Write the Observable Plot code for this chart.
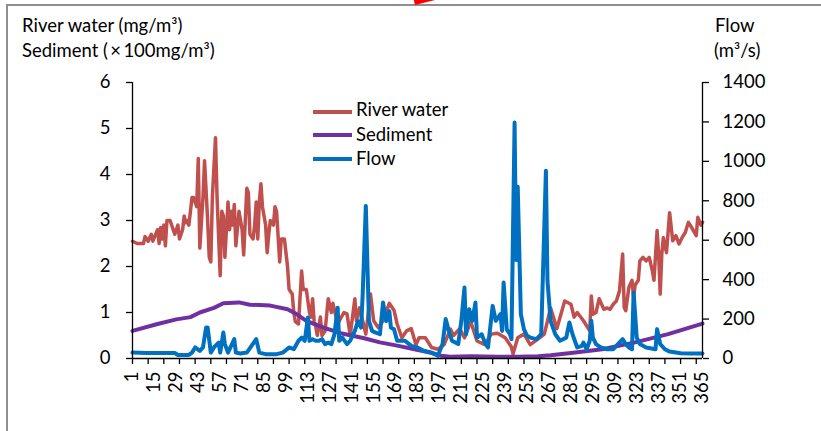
<!DOCTYPE html>
<html>
<head>
<meta charset="utf-8">
<script src="https://cdn.jsdelivr.net/npm/d3@7"></script>
<script src="https://cdn.jsdelivr.net/npm/@observablehq/plot@0.6"></script>
<style>
  body { margin: 0; background: #fff; }
  #wrap { position: relative; width: 821px; height: 431px; overflow: hidden; background: #fff; font-family: Lato, "Open Sans", sans-serif; color: #000; }
  #wrap svg { position: absolute; left: 0; top: 0; }
  .t { position: absolute; font-size: 18.5px; line-height: 1; white-space: nowrap; }
  .sw { position: absolute; height: 4px; width: 39px; }
</style>
</head>
<body>
<div id="wrap">
  <div style="position:absolute;left:6px;top:4px;width:900px;height:500px;border-left:2px solid #8f8f8f;border-top:2px solid #8f8f8f;"></div>
  <div style="position:absolute;left:415px;top:0px;width:25px;height:5px;background:#f00;transform:rotate(-14deg);transform-origin:left bottom;"></div>
</div>
<script>
// ---- data ----
const riverDays = [1,4,8,9,11,13,14,17,18,19,20,21,22,23,25,27,28,30,31,33,34,35,36,37,39,40,42,43,44,46,47,49,50,51,52,54,55,57,58,59,60,62,63,64,65,66,67,69,70,71,72,74,75,76,78,79,80,81,82,83,84,86,87,88,89,91,92,93,95,96,98,99,100,101,103,104,105,107,109,110,112,114,115,116,117,118,119,121,122,124,126,128,129,132,136,138,140,143,144,146,150,153,155,158,161,165,168,170,173,176,179,182,184,188,192,196,200,204,206,210,213,217,221,226,230,234,239,243,244,247,251,255,259,264,268,272,277,281,283,285,289,293,294,295,297,299,302,304,306,308,310,312,314,315,316,318,320,321,322,324,325,327,329,331,333,334,336,337,338,339,340,342,344,346,348,350,352,354,356,358,361,362,364,365];
const riverVals = [2.55,2.5,2.5,2.65,2.55,2.7,2.55,2.8,2.5,2.85,2.6,2.9,2.45,3.0,3.0,2.8,2.7,2.9,2.6,2.8,3.1,2.95,3.0,2.9,3.5,3.5,3.3,4.35,2.4,3.5,4.3,3.0,2.2,2.1,3.5,4.8,3.5,1.8,3.2,3.1,2.2,3.4,2.8,3.2,2.9,3.35,2.45,3.2,3.0,2.8,2.25,3.7,3.6,2.7,2.6,2.9,3.4,2.6,3.4,3.8,3.3,2.9,2.3,2.7,3.0,2.9,3.3,3.2,2.1,2.6,2.6,2.3,2.0,1.5,1.4,1.0,0.8,0.75,1.9,1.5,1.5,1.0,0.9,1.3,0.8,0.7,0.5,0.9,0.5,0.6,1.3,1.0,1.2,0.75,1.0,0.97,0.5,1.3,0.82,1.1,0.53,1.4,0.82,0.67,0.82,1.2,1.05,0.75,0.45,0.6,0.65,0.3,0.45,0.45,0.24,0.2,0.3,0.64,0.5,0.65,0.45,0.8,0.38,0.3,0.53,0.55,0.45,0.25,0.1,0.45,0.53,0.3,0.4,0.53,1.1,0.65,1.25,1.18,0.9,1.0,0.82,0.6,1.36,0.96,1.0,1.3,1.07,1.1,1.07,1.18,1.25,1.47,2.27,1.11,1.04,1.55,1.7,1.33,1.6,1.7,2.12,2.2,2.12,2.2,1.9,1.7,2.78,2.27,1.4,2.27,2.63,2.3,3.17,2.56,2.67,2.49,2.63,2.74,2.96,2.85,2.67,3.07,2.9,2.96];

const sedimentDays = [1,17,29,38,44,53,59,69,76,89,100,106,112,123,134,149,159,170,181,191,198,204,217,234,247,260,268,281,301,322,343,365];
const sedimentVals = [0.6,0.75,0.85,0.9,1.0,1.1,1.2,1.22,1.17,1.15,1.07,0.96,0.82,0.67,0.55,0.44,0.35,0.28,0.2,0.13,0.06,0.04,0.05,0.04,0.04,0.05,0.07,0.12,0.2,0.35,0.53,0.76];

const flowDays = [1,10,28,30,37,39,41,44,46,48,49,51,53,56,57,59,60,62,66,67,70,74,80,82,86,93,97,101,104,107,109,111,113,114,116,118,120,122,124,126,128,130,132,133,135,138,140,143,145,147,148,150,152,154,156,159,161,163,165,166,168,170,175,179,183,187,192,196,199,201,203,205,209,211,213,214,216,218,220,221,224,226,228,231,233,236,237,238,240,242,243,245,246,247,249,251,253,255,259,262,265,266,268,271,274,278,280,282,285,288,289,291,293,294,295,297,300,304,308,311,314,316,318,320,321,323,325,329,335,336,338,341,344,351,357,365];
const flowVals = [30,28,28,18,18,30,56,39,56,157,157,30,56,81,30,132,73,30,98,30,25,30,98,30,22,22,30,56,47,90,106,90,208,90,98,90,90,98,73,81,73,124,258,90,106,73,90,140,190,157,326,774,190,140,132,123,284,190,240,157,148,90,90,64,56,39,30,14,73,200,140,90,73,191,360,123,250,191,284,106,123,81,56,267,191,225,140,385,148,123,98,1197,500,871,225,148,115,106,98,123,952,393,191,123,90,106,183,123,56,64,81,47,90,191,106,73,56,47,47,73,98,73,56,47,335,106,73,56,47,149,73,47,35,27,25,25];

const leftTicks = [0,1,2,3,4,5,6];
const flowTicks = [0,200,400,600,800,1000,1200,1400];
const xTickDays = [1,11,21,31,41,51,61,71,81,91,101,111,121,131,141,151,161,171,181,191,201,211,221,231,241,251,261,271,281,291,301,311,321,331,341,351,361];
const xLabelDays = [1,15,29,43,57,71,85,99,113,127,141,155,169,183,197,211,225,239,253,267,281,295,309,323,337,351,365];

const seriesNames = ["River water", "Sediment", "Flow"];
const seriesColors = ["#C0504D", "#7030A0", "#0070C0"];
const titleLeft = ["River water (mg/m\u00B3)", "Sediment (\u2009\u00D7\u2009100mg/m\u00B3)"];
const titleRight = ["Flow", "(m\u00B3/s)"];

// ---- build ----
const ratio = 1400 / 6;
const river = riverDays.map((d, i) => ({day: d, v: riverVals[i]}));
const sediment = sedimentDays.map((d, i) => ({day: d, v: sedimentVals[i]}));
const flow = flowDays.map((d, i) => ({day: d, v: flowVals[i] / ratio}));

const chart = Plot.plot({
  width: 821,
  height: 431,
  marginLeft: 132,
  marginRight: 119,
  marginTop: 82,
  marginBottom: 73,
  x: {domain: [1, 365]},
  y: {domain: [0, 6]},
  style: {fontFamily: "Lato, 'Open Sans', sans-serif", fontSize: "18.5px", color: "#000", background: "transparent", overflow: "visible"},
  marks: [
    Plot.line(river, {x: "day", y: "v", stroke: seriesColors[0], strokeWidth: 3.5}),
    Plot.line(sediment, {x: "day", y: "v", stroke: seriesColors[1], strokeWidth: 4}),
    Plot.line(flow, {x: "day", y: "v", stroke: seriesColors[2], strokeWidth: 4}),
    Plot.ruleX([1, 365], {stroke: "#000", strokeWidth: 1.3}),
    Plot.ruleY([0], {stroke: "#000", strokeWidth: 1.3}),
    Plot.axisY({anchor: "left", ticks: leftTicks, tickFormat: v => String(v), tickSize: 6, tickPadding: 16, label: null, strokeWidth: 1.3}),
    Plot.axisY({anchor: "right", ticks: flowTicks.map(t => t / ratio), tickFormat: v => String(Math.round(v * ratio)), tickSize: 6, tickPadding: 14, label: null, strokeWidth: 1.3}),
    Plot.axisX({anchor: "bottom", ticks: xTickDays, tickFormat: () => "", tickSize: 6, label: null, strokeWidth: 1.3}),
    Plot.axisX({anchor: "bottom", ticks: xLabelDays, tickFormat: v => String(v), tickSize: 0, tickPadding: 13, tickRotate: -90, label: null})
  ]
});

const wrap = document.getElementById("wrap");
wrap.appendChild(chart);

function addText(str, left, baseline) {
  const el = document.createElement("div");
  el.className = "t";
  el.textContent = str;
  el.style.left = left + "px";
  el.style.top = (baseline - 16.4) + "px";
  wrap.appendChild(el);
}
addText(titleLeft[0], 22, 32);
addText(titleLeft[1], 22, 57);
addText(titleRight[0], 715, 32);
addText(titleRight[1], 714, 57);

const legendLineY = [111.5, 135, 159];
const legendBase = [116.7, 141.2, 165.7];
seriesNames.forEach((name, i) => {
  const sw = document.createElement("div");
  sw.className = "sw";
  sw.style.left = "313px";
  sw.style.top = (legendLineY[i] - 2) + "px";
  sw.style.background = seriesColors[i];
  wrap.appendChild(sw);
  addText(name, 356, legendBase[i]);
});
</script>
</body>
</html>
